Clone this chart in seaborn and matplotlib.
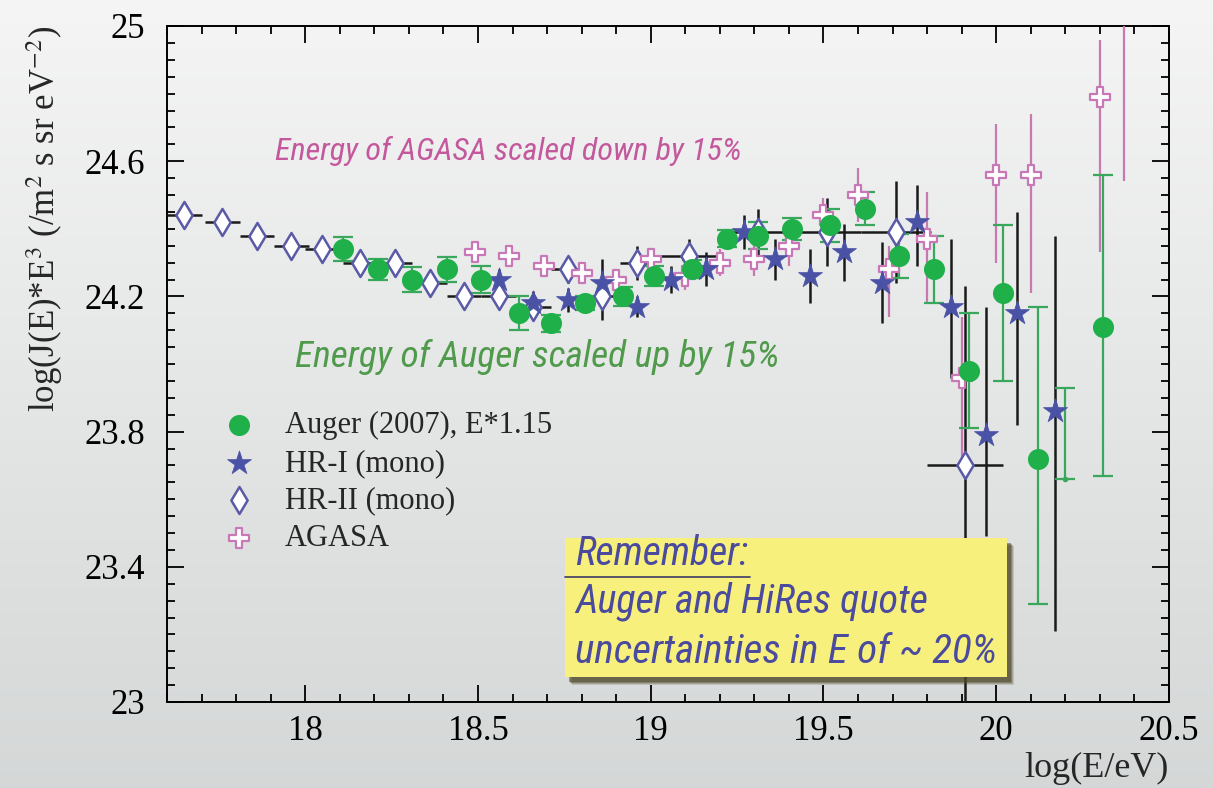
import numpy as np
import matplotlib
matplotlib.use("Agg")
import matplotlib.pyplot as plt
import seaborn as sns
from matplotlib.patches import Rectangle
from matplotlib.lines import Line2D
from matplotlib.ticker import FixedLocator
from matplotlib import font_manager as fm

# ---------------- data ----------------
auger_x = [18.11, 18.21, 18.31, 18.41, 18.51, 18.62, 18.71, 18.81, 18.92, 19.01, 19.12,
           19.22, 19.31, 19.41, 19.52, 19.62, 19.72, 19.82, 19.92, 20.02, 20.12, 20.31]
auger_y = [24.34, 24.28, 24.25, 24.28, 24.25, 24.15, 24.12, 24.18, 24.20, 24.26, 24.28,
           24.37, 24.38, 24.40, 24.41, 24.46, 24.32, 24.28, 23.98, 24.21, 23.72, 24.11]
auger_lo = [0.035, 0.03, 0.036, 0.036, 0.04, 0.05, 0.025, 0.02, 0.027, 0.03, 0.027,
            0.025, 0.04, 0.032, 0.05, 0.048, 0.065, 0.10, 0.17, 0.26, 0.43, 0.44]
auger_hi = [0.035, 0.03, 0.036, 0.036, 0.04, 0.05, 0.025, 0.02, 0.027, 0.03, 0.027,
            0.025, 0.04, 0.032, 0.05, 0.048, 0.065, 0.10, 0.17, 0.20, 0.45, 0.45]
auger_lim_x = [20.20]
auger_lim_y = [23.66]
auger_lim_hi = [0.27]

hr1_x = [18.56, 18.66, 18.76, 18.86, 18.96, 19.06, 19.16, 19.27, 19.36, 19.46, 19.56,
         19.67, 19.77, 19.87, 19.97, 20.06, 20.17]
hr1_y = [24.25, 24.18, 24.19, 24.24, 24.17, 24.25, 24.28, 24.39, 24.31, 24.26, 24.33,
         24.24, 24.42, 24.17, 23.79, 24.15, 23.86]
hr1_lo = [0.03, 0.035, 0.035, 0.07, 0.03, 0.04, 0.05, 0.05, 0.06, 0.08, 0.085,
          0.12, 0.13, 0.21, 0.30, 0.33, 0.65]
hr1_hi = [0.03, 0.035, 0.035, 0.07, 0.03, 0.04, 0.05, 0.05, 0.06, 0.08, 0.085,
          0.12, 0.11, 0.20, 0.38, 0.30, 0.52]

hr2_x = [17.65, 17.76, 17.86, 17.96, 18.05, 18.16, 18.26, 18.36, 18.46, 18.56, 18.66,
         18.76, 18.86, 18.96, 19.11, 19.31, 19.51, 19.71, 19.91]
hr2_y = [24.44, 24.42, 24.38, 24.35, 24.34, 24.30, 24.30, 24.24, 24.20, 24.20, 24.17,
         24.28, 24.20, 24.30, 24.32, 24.39, 24.39, 24.39, 23.70]
hr2_xerr = [0.05, 0.05, 0.05, 0.05, 0.05, 0.05, 0.05, 0.05, 0.05, 0.05, 0.05,
            0.05, 0.05, 0.05, 0.10, 0.10, 0.10, 0.10, 0.11]
hr2_lo = [0.01, 0.01, 0.01, 0.01, 0.01, 0.01, 0.01, 0.01, 0.01, 0.01, 0.02,
          0.04, 0.07, 0.05, 0.05, 0.07, 0.10, 0.15, 0.90]
hr2_hi = [0.01, 0.01, 0.01, 0.01, 0.01, 0.01, 0.01, 0.01, 0.01, 0.01, 0.02,
          0.04, 0.07, 0.05, 0.05, 0.07, 0.10, 0.15, 0.53]

agasa_x = [18.49, 18.59, 18.69, 18.80, 18.90, 19.00, 19.10, 19.20, 19.30, 19.40, 19.50,
           19.60, 19.69, 19.80, 19.90, 20.00, 20.10, 20.30, 20.37]
agasa_y = [24.33, 24.32, 24.29, 24.27, 24.25, 24.31, 24.26, 24.30, 24.31, 24.35, 24.44,
           24.50, 24.28, 24.37, 23.96, 24.56, 24.56, 24.79, 25.15]
agasa_lo = [0.02, 0.02, 0.02, 0.02, 0.03, 0.03, 0.04, 0.04, 0.05, 0.06, 0.05,
            0.08, 0.14, 0.19, 0.25, 0.26, 0.35, 0.46, 0.61]
agasa_hi = [0.02, 0.02, 0.02, 0.02, 0.03, 0.03, 0.04, 0.04, 0.05, 0.06, 0.05,
            0.08, 0.07, 0.14, 0.18, 0.15, 0.18, 0.17, 0.20]

series_labels = ["Auger (2007), E*1.15", "HR-I (mono)", "HR-II (mono)", "AGASA"]

x_ticks = [18, 18.5, 19, 19.5, 20, 20.5]
x_tick_labels = ["18", "18.5", "19", "19.5", "20", "20.5"]
y_ticks = [23, 23.4, 23.8, 24.2, 24.6, 25]
y_tick_labels = ["23", "23.4", "23.8", "24.2", "24.6", "25"]

note_agasa = "Energy of AGASA scaled down by 15%"
note_auger = "Energy of Auger scaled up by 15%"
box_title = "Remember:"
box_lines = ["Auger and HiRes quote", "uncertainties in E of ~ 20%"]

# ---------------- style ----------------
sns.set_theme(style="ticks")
plt.rcParams["font.family"] = ["Liberation Serif", "DejaVu Serif"]
plt.rcParams["mathtext.fontset"] = "stix"

entries = fm.fontManager.ttflist
names = {f.name for f in entries}
note_kw = {"family": "DejaVu Sans"}
if "Liberation Sans Narrow" in names:
    note_kw = {"family": "Liberation Sans Narrow"}
elif "Roboto Condensed" in names:
    note_kw = {"family": "Roboto Condensed"}
elif any(f.name == "DejaVu Sans" and f.stretch == "condensed" and f.style != "normal"
         for f in entries):
    note_kw = {"family": "DejaVu Sans", "stretch": "condensed"}
elif "Roboto" in names:
    note_kw = {"family": "Roboto"}

c_auger = "#20b04a"
c_auger_err = "#3aa85c"
c_star = "#4a52a6"
c_dia = "#5a5aa6"
c_cross = "#c878b6"
c_cross_err = "#c77ab0"
c_black = "#1a1a1a"

W, H = 1213, 788
fig = plt.figure(figsize=(W / 100, H / 100), dpi=100)

# background gradient
bg = fig.add_axes([0, 0, 1, 1], zorder=-10)
t = np.linspace(0, 1, 256)[:, None]
top = np.array([0.96, 0.96, 0.96])
bot = np.array([0.835, 0.845, 0.845])
img = (top[None, None, :] * (1 - t[..., None]) + bot[None, None, :] * t[..., None])
img = np.repeat(img, 4, axis=1)
bg.imshow(img, aspect="auto", extent=[0, 1, 0, 1])
bg.axis("off")

ax = fig.add_axes([167 / W, 1 - 702 / H, 1002 / W, 676 / H])
ax.set_facecolor("none")

# ---------------- error bars ----------------
ax.errorbar(hr2_x, hr2_y, xerr=hr2_xerr, yerr=[hr2_lo, hr2_hi], fmt="none",
            ecolor=c_black, elinewidth=1.8, capsize=0, zorder=3)
ax.errorbar(hr1_x, hr1_y, yerr=[hr1_lo, hr1_hi], fmt="none",
            ecolor=c_black, elinewidth=1.8, capsize=0, zorder=3)
ax.errorbar(agasa_x, agasa_y, yerr=[agasa_lo, agasa_hi], fmt="none",
            ecolor=c_cross_err, elinewidth=1.6, capsize=0, zorder=3)
ax.errorbar(auger_x, auger_y, yerr=[auger_lo, auger_hi], fmt="none",
            ecolor=c_auger_err, elinewidth=1.6, capsize=7, capthick=1.6, zorder=4)
ax.errorbar(auger_lim_x, auger_lim_y, yerr=[[0.0], auger_lim_hi], fmt="o", ms=3,
            color=c_auger_err, ecolor=c_auger_err, elinewidth=1.6, capsize=7,
            capthick=1.6, zorder=4)

# ---------------- markers ----------------
sns.scatterplot(x=hr2_x, y=hr2_y, ax=ax, marker="d", s=190, color="white",
                edgecolor=c_dia, linewidth=1.8, zorder=6, label=series_labels[2])
sns.scatterplot(x=agasa_x, y=agasa_y, ax=ax, marker="P", s=220, color="white",
                edgecolor=c_cross, linewidth=1.6, zorder=6, label=series_labels[3])
sns.scatterplot(x=hr1_x, y=hr1_y, ax=ax, marker="*", s=330, color=c_star,
                edgecolor=c_star, linewidth=0.5, zorder=7, label=series_labels[1])
sns.scatterplot(x=auger_x, y=auger_y, ax=ax, marker="o", s=230, color=c_auger,
                edgecolor=c_auger, linewidth=0, zorder=8, label=series_labels[0])

# ---------------- axes ----------------
ax.set_xlim(17.6, 20.5)
ax.set_ylim(23, 25)
ax.xaxis.set_major_locator(FixedLocator(x_ticks))
ax.set_xticklabels(x_tick_labels)
ax.xaxis.set_minor_locator(FixedLocator(np.round(np.arange(17.6, 20.51, 0.1), 2)))
ax.yaxis.set_major_locator(FixedLocator(y_ticks))
ax.set_yticklabels(y_tick_labels)
ax.yaxis.set_minor_locator(FixedLocator(np.round(np.arange(23, 25.001, 0.05), 3)))
ax.tick_params(which="both", direction="in", top=True, right=True, colors="black",
               width=1.3)
ax.tick_params(which="major", length=12, labelsize=25)
ax.tick_params(which="minor", length=6)
ax.tick_params(axis="y", which="major", pad=16)
ax.tick_params(axis="x", which="major", pad=9)
for s in ax.spines.values():
    s.set_color("black")
    s.set_linewidth(1.4)

ax.set_xlabel("log(E/eV)", fontsize=26, loc="right")
ax.xaxis.set_label_coords(1.0, -0.074)
ax.set_ylabel(r"log(J(E)*E$^3$ (/m$^2$ s sr eV$^{-2}$)", fontsize=25, loc="top",
              va="center")
ax.yaxis.set_label_coords(-0.122, 1.0)

# ---------------- legend ----------------
h, l = ax.get_legend_handles_labels()
order = [l.index(n) for n in series_labels]
ax.legend([h[i] for i in order], [l[i] for i in order], loc="upper left",
          bbox_to_anchor=(0.057, 0.43), frameon=False,
          prop={"family": "Liberation Serif", "size": 22}, handlelength=1.0,
          handletextpad=1.0, labelspacing=0.28, borderpad=0, borderaxespad=0)

# ---------------- annotations ----------------
t1 = ax.text(0.1078, 0.8018, note_agasa, transform=ax.transAxes, color="#c4589c",
             fontsize=24, style="italic", va="baseline", zorder=10, **note_kw)
t2 = ax.text(0.1277, 0.4956, note_auger, transform=ax.transAxes, color="#4f9a4b",
             fontsize=24, style="italic", va="baseline", zorder=10, **note_kw)

# yellow box with soft shadow
bx, by, bw, bh = 0.397, 0.037, 0.441, 0.206
px = 1.0 / 1002
py = 1.0 / 676
for k, a in enumerate([0.18, 0.25, 0.35, 0.5]):
    off = 4 - k
    ax.add_patch(Rectangle((bx + (3 + off) * px, by - (4 + off) * py), bw, bh,
                           transform=ax.transAxes, fc="#4e4828", ec="none",
                           alpha=a, zorder=19, clip_on=False))
ax.add_patch(Rectangle((bx, by), bw, bh, transform=ax.transAxes, fc="#f8f07c",
                       ec="none", zorder=20, clip_on=False))
c_box = "#4a4a9e"
t3 = ax.text(0.407, 0.2027, box_title, transform=ax.transAxes, color=c_box,
             fontsize=22, style="italic", va="baseline", zorder=21, **note_kw)
t4 = ax.text(0.407, 0.1317, box_lines[0], transform=ax.transAxes, color=c_box,
             fontsize=22, style="italic", va="baseline", zorder=21, **note_kw)
t5 = ax.text(0.407, 0.0577, box_lines[1], transform=ax.transAxes, color=c_box,
             fontsize=22, style="italic", va="baseline", zorder=21, **note_kw)
ax.add_line(Line2D([bx, 0.582], [0.185, 0.185], transform=ax.transAxes,
                   color="#4a4a6a", lw=1.3, zorder=21))

# fit annotation widths to the reference
fig.canvas.draw()
r = fig.canvas.get_renderer()
for txt, target in [(t1, 468), (t2, 485), (t3, 173), (t4, 353), (t5, 422)]:
    w = txt.get_window_extent(r).width
    txt.set_fontsize(txt.get_fontsize() * target / w)

fig.savefig("out.png", dpi=100, facecolor=fig.get_facecolor())
